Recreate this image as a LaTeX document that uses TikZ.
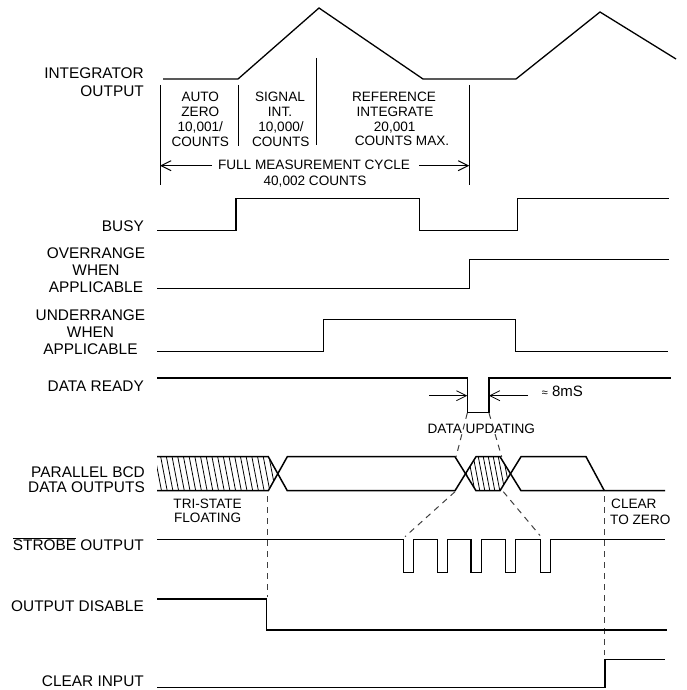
\documentclass[tikz,border=0pt]{standalone}
\usepackage{fontspec}
\setmainfont{Liberation Sans}
\usetikzlibrary{arrows.meta}
\newcommand\lblfont{\fontsize{15.4}{17}\selectfont}
\newcommand\smfont{\fontsize{13.6}{15}\selectfont}
\newcommand\ovl[1]{$\overline{\hbox{#1}}$}
\begin{document}
\begin{tikzpicture}[x=1pt,y=-1pt,
  sig/.style={line width=1.5pt, line join=miter},
  thinln/.style={line width=1pt},
  hatchln/.style={line width=0.8pt},
  dashln/.style={line width=1pt, black!75, dash pattern=on 6pt off 5pt},
  lbl/.style={inner sep=0pt, font=\lblfont},
  sm/.style={inner sep=0pt, font=\smfont},
  arr/.style={thinln, -{Straight Barb[length=10pt,width=10pt]}},
]
\useasboundingbox (0,0) rectangle (686,690);

% ---------- integrator ----------
\draw[sig, line width=1.3pt] (163,79) -- (238,79) -- (319,8) -- (423,79) -- (516,79) -- (600,12) -- (676,59);
\node[lbl, anchor=base east] (intA) at (144,78.4) {INTEGRATOR};
\node[lbl, anchor=base east] (intB) at (144,96.4) {OUTPUT};

\draw[thinln] (160,85) -- (160,185);
\draw[thinln] (238,85) -- (238,146);
\draw[thinln] (316,58) -- (316,145);
\draw[thinln] (469.3,85) -- (469.3,185);

\node[sm, anchor=base] (az1) at (200.3,101.7) {AUTO};
\node[sm, anchor=base] (az2) at (200.3,116.7) {ZERO};
\node[sm, anchor=base] (az3) at (200.3,131.7) {10,001/};
\node[sm, anchor=base] (az4) at (200.3,146.5) {COUNTS};

\node[sm, anchor=base] (si1) at (280,101.7) {SIGNAL};
\node[sm, anchor=base] (si2) at (280,116.7) {INT.};
\node[sm, anchor=base] (si3) at (281,131.7) {10,000/};
\node[sm, anchor=base] (si4) at (280.8,146.5) {COUNTS};

\node[sm, anchor=base] (ri1) at (394,101.7) {REFERENCE};
\node[sm, anchor=base] (ri2) at (395,116.7) {INTEGRATE};
\node[sm, anchor=base] (ri3) at (394.7,131.7) {20,001};
\node[sm, anchor=base] (ri4) at (402,146) {COUNTS MAX.};

\node[sm, anchor=base] (fmc) at (314,169) {FULL MEASUREMENT CYCLE};
\node[sm, anchor=base] (fmc2) at (315,185.7) {40,002 COUNTS};
\coordinate (fl) at (160,165.7);
\coordinate (fr) at (469.3,165.7);
\draw[arr] (212,165.7) -- (fl);
\draw[arr] (419,165.7) -- (fr);

% ---------- BUSY ----------
\node[lbl, anchor=base east] (busy) at (144,231) {BUSY};
\draw[sig] (157,230.7) -- (236,230.7) -- (236,198.3) -- (419.3,198.3) -- (419.3,230.7) -- (517.7,230.7) -- (517.7,198.3) -- (669,198.3);

% ---------- OVERRANGE ----------
\node[lbl, anchor=base] (ov1) at (96,258.3) {OVERRANGE};
\node[lbl, anchor=base] (ov2) at (96,275) {WHEN};
\node[lbl, anchor=base] (ov3) at (96,292.3) {APPLICABLE};
\draw[sig] (157,288.3) -- (469.3,288.3) -- (469.3,259.3) -- (669,259.3);

% ---------- UNDERRANGE ----------
\node[lbl, anchor=base] (un1) at (90.5,320) {UNDERRANGE};
\node[lbl, anchor=base] (un2) at (90.5,337.3) {WHEN};
\node[lbl, anchor=base] (un3) at (90.5,354) {APPLICABLE};
\draw[sig] (157,351.7) -- (323.3,351.7) -- (323.3,319.3) -- (515.7,319.3) -- (515.7,351.3) -- (668,351.3);

% ---------- DATA READY ----------
\node[lbl, anchor=base east] (dr) at (144,391.7) {DATA READY};
\draw[sig] (157,378) -- (467.3,378) -- (467.3,412.3) -- (489,412.3) -- (489,378) -- (671,378);
\coordinate (drl) at (467.3,395.7);
\coordinate (drr) at (489,395.7);
\draw[arr, line width=0.8pt] (429.3,395.7) -- (drl);
\draw[arr, line width=0.8pt] (528,395.7) -- (drr);
\node[inner sep=0pt, anchor=base west, font=\fontsize{15}{16}\selectfont] (ms) at (541.7,396.7) {{\fontsize{11}{12}\selectfont ≈} 8mS};
\node[sm, anchor=base] (du) at (481.3,433.3) {DATA UPDATING};

% ---------- PARALLEL BCD ----------
\node[lbl, anchor=base east] (pb1) at (145,477.3) {PARALLEL BCD};
\node[lbl, anchor=base east] (pb2) at (145,492.7) {DATA OUTPUTS};
% hatched tri-state region
\begin{scope}
  \clip (157,456.7) -- (268.3,456.7) -- (277.8,473.7) -- (268.3,490.7) -- (157,490.7) -- cycle;
  \foreach \x in {148,153.7,...,290} \draw[hatchln] (\x,450) -- (\x+9,497);
\end{scope}
\begin{scope}
  \clip (465.5,473.7) -- (476,456.7) -- (500,456.7) -- (510.5,473.7) -- (500,490.7) -- (476,490.7) -- cycle;
  \foreach \x in {452,457,...,520} \draw[hatchln] (\x,450) -- (\x+9,497);
\end{scope}
\draw[sig] (157,456.7) -- (268.3,456.7) -- (287.3,490.7) -- (455,490.7) -- (476,456.7) -- (500,456.7) -- (521,490.7) -- (665,490.7);
\draw[sig] (157,490.7) -- (268.3,490.7) -- (287.3,456.7) -- (455,456.7) -- (476,490.7) -- (500,490.7) -- (521,456.7) -- (586,456.7) -- (604.3,490.7);

\node[sm, anchor=base] (ts1) at (207.6,508.3) {TRI-STATE};
\node[sm, anchor=base] (ts2) at (207.6,522.7) {FLOATING};
\node[sm, anchor=base west] (cz1) at (611,508.3) {CLEAR};
\node[sm, anchor=base west] (cz2) at (610,524) {TO ZERO};

% dashed guides
\draw[dashln] (467.3,413) -- (456,457);
\draw[dashln] (489,413) -- (501.7,457);
\draw[dashln] (455,491.7) -- (405,536.7);
\draw[dashln] (503.3,491.7) -- (540,535.5);
\draw[dashln] (267.5,496) -- (267.5,597);
\draw[dashln] (604,496) -- (604,655);

% ---------- STROBE ----------
\node[lbl, anchor=base east] (st) at (144,550.7) {\ovl{STROBE} OUTPUT};
\draw[sig] (157,539.3)
  -- (403.5,539.3) -- (403.5,572.5) -- (413.5,572.5) -- (413.5,539.3)
  -- (437.3,539.3) -- (437.3,572.5) -- (447.5,572.5) -- (447.5,539.3)
  -- (471,539.3) -- (471,572.5) -- (481.3,572.5) -- (481.3,539.3)
  -- (505.3,539.3) -- (505.3,572.5) -- (515.5,572.5) -- (515.5,539.3)
  -- (540.3,539.3) -- (540.3,572.5) -- (550.5,572.5) -- (550.5,539.3)
  -- (665,539.3);

% ---------- OUTPUT DISABLE ----------
\node[lbl, anchor=base east] (od) at (144,611.7) {OUTPUT DISABLE};
\draw[sig] (157,599) -- (266.7,599) -- (266.7,630) -- (666.7,630);

% ---------- CLEAR INPUT ----------
\node[lbl, anchor=base east] (ci) at (144,686.7) {CLEAR INPUT};
\draw[sig] (157,687.7) -- (605,687.7) -- (605,659.3) -- (665,659.3);
\end{tikzpicture}
\end{document}
